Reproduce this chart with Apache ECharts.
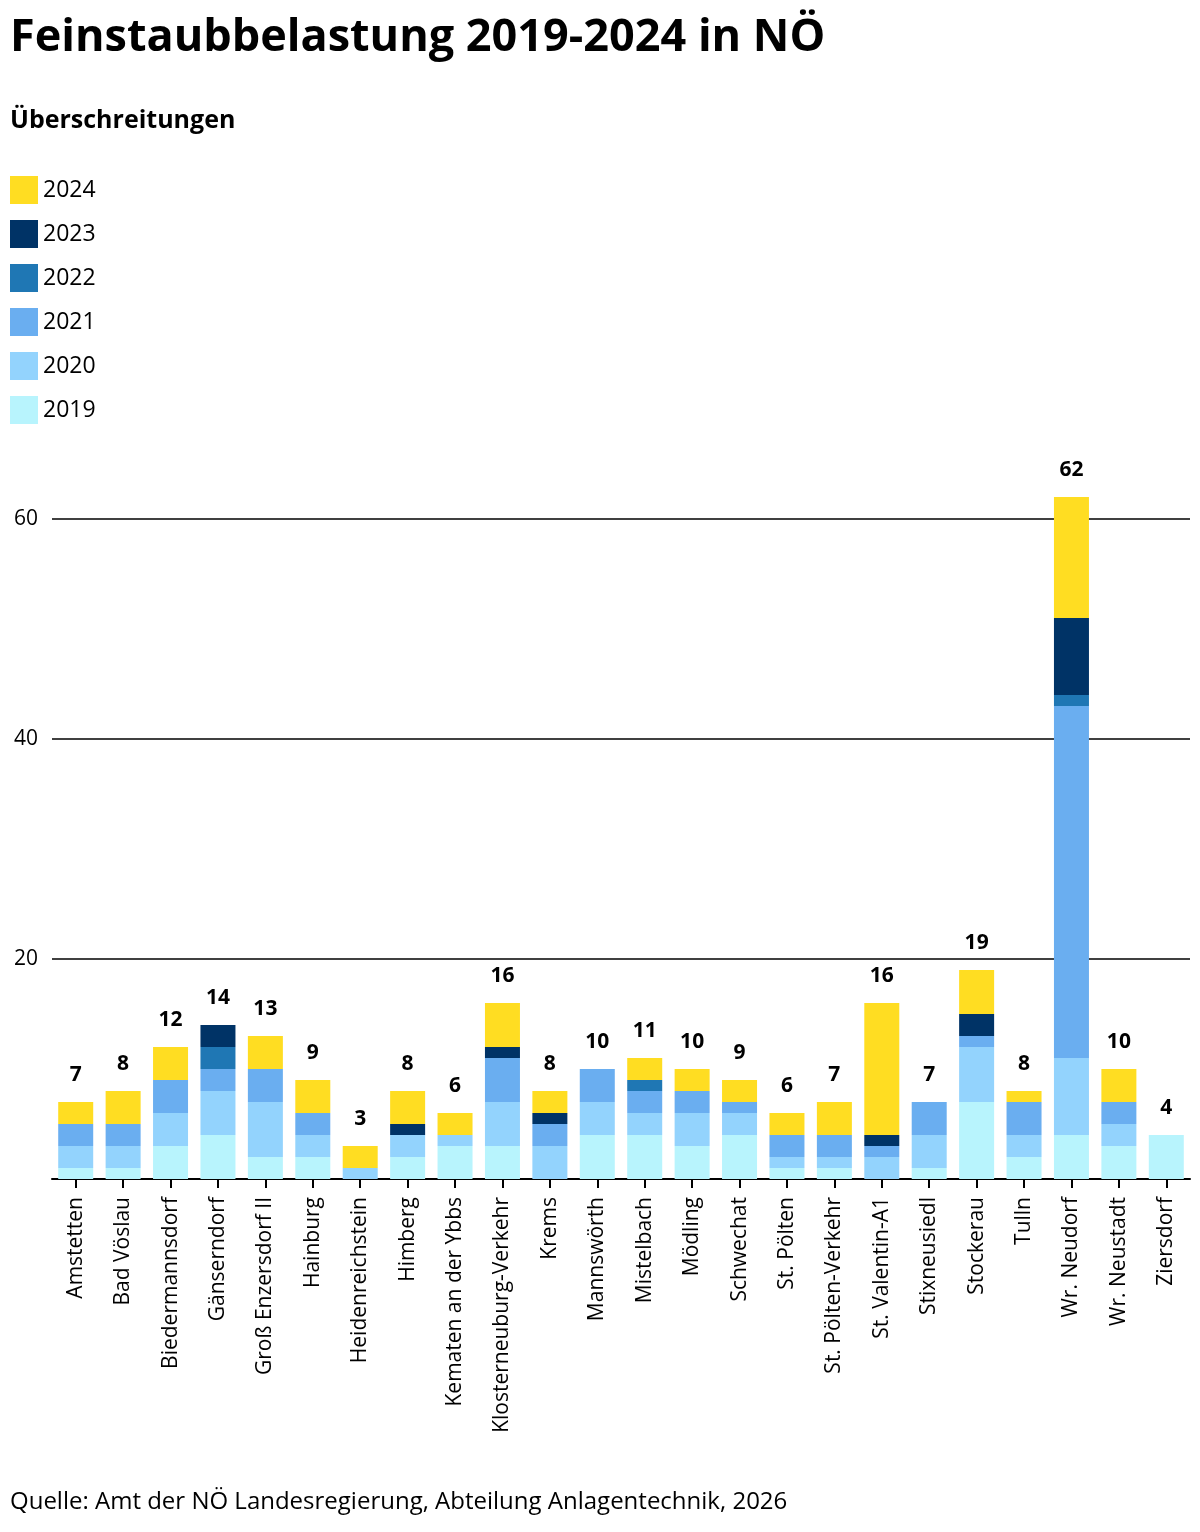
<!DOCTYPE html>
<html>
<head>
<meta charset="utf-8">
<title>Feinstaubbelastung 2019-2024 in NÖ</title>
<script src="https://cdn.jsdelivr.net/npm/echarts@6/dist/echarts.min.js"></script>
<style>
  html, body { margin: 0; padding: 0; background: #fff; }
  #chart { width: 1200px; height: 1532px; }
</style>
</head>
<body>
<div id="chart"></div>
<script>
const stations = ['Amstetten', 'Bad Vöslau', 'Biedermannsdorf', 'Gänserndorf', 'Groß Enzersdorf II', 'Hainburg',
  'Heidenreichstein', 'Himberg', 'Kematen an der Ybbs', 'Klosterneuburg-Verkehr', 'Krems', 'Mannswörth',
  'Mistelbach', 'Mödling', 'Schwechat', 'St. Pölten', 'St. Pölten-Verkehr', 'St. Valentin-A1',
  'Stixneusiedl', 'Stockerau', 'Tulln', 'Wr. Neudorf', 'Wr. Neustadt', 'Ziersdorf']

const years = ['2019', '2020', '2021', '2022', '2023', '2024']

const v2019 = [1, 1, 3, 4, 2, 2, 0, 2, 3, 3, 0, 4, 4, 3, 4, 1, 1, 0, 1, 7, 2, 4, 3, 4]
const v2020 = [2, 2, 3, 4, 5, 2, 1, 2, 1, 4, 3, 3, 2, 3, 2, 1, 1, 2, 3, 5, 2, 7, 2, 0]
const v2021 = [2, 2, 3, 2, 3, 2, 0, 0, 0, 4, 2, 3, 2, 2, 1, 2, 2, 1, 3, 1, 3, 32, 2, 0]
const v2022 = [0, 0, 0, 2, 0, 0, 0, 0, 0, 0, 0, 0, 1, 0, 0, 0, 0, 0, 0, 0, 0, 1, 0, 0]
const v2023 = [0, 0, 0, 2, 0, 0, 0, 1, 0, 1, 1, 0, 0, 0, 0, 0, 0, 1, 0, 2, 0, 7, 0, 0]
const v2024 = [2, 3, 3, 0, 3, 3, 2, 3, 2, 4, 2, 0, 2, 2, 2, 2, 3, 12, 0, 4, 1, 11, 3, 0]

const yTicks = [0, 20, 40, 60]

const colors = {
  '2019': '#b8f4fd',
  '2020': '#93d3fd',
  '2021': '#6aaef0',
  '2022': '#1f77b4',
  '2023': '#003366',
  '2024': '#ffdd22'
}

const valuesByYear = { '2019': v2019, '2020': v2020, '2021': v2021, '2022': v2022, '2023': v2023, '2024': v2024 }
const totals = stations.map((s, i) => years.reduce((sum, y) => sum + valuesByYear[y][i], 0))

const font = '"Open Sans", "Noto Sans", sans-serif'

let myChart = echarts.init(document.getElementById('chart'))

let series = years.map(y => ({
  name: y,
  type: 'bar',
  stack: 'total',
  barWidth: 35,
  itemStyle: { color: colors[y] },
  emphasis: { disabled: true },
  data: valuesByYear[y]
}))

// zero-height bar on top of the stack, only there to carry the total label
series.push({
  name: 'Summe',
  type: 'bar',
  stack: 'total',
  barWidth: 35,
  itemStyle: { color: 'transparent' },
  label: {
    show: true,
    position: 'top',
    distance: 16,
    fontFamily: font,
    fontWeight: 'bold',
    fontSize: 21,
    color: '#000',
    formatter: p => totals[p.dataIndex]
  },
  data: stations.map(() => 0)
})

let option = {
  animation: false,
  textStyle: { fontFamily: font },
  title: [
    {
      text: 'Feinstaubbelastung 2019-2024 in NÖ',
      left: 5,
      top: 11,
      textStyle: { fontFamily: font, fontWeight: 'bold', fontSize: 45, color: '#000' }
    },
    {
      text: 'Überschreitungen',
      left: 5,
      top: 103,
      textStyle: { fontFamily: font, fontWeight: 'bold', fontSize: 25, color: '#000' }
    },
    {
      text: 'Quelle: Amt der NÖ Landesregierung, Abteilung Anlagentechnik, 2026',
      left: 5,
      top: 1485,
      textStyle: { fontFamily: font, fontWeight: 'normal', fontSize: 24, color: '#000' }
    }
  ],
  legend: {
    orient: 'vertical',
    left: 10,
    top: 176,
    padding: 0,
    icon: 'rect',
    itemWidth: 28,
    itemHeight: 28,
    itemGap: 16,
    selectedMode: false,
    data: years.slice().reverse(),
    textStyle: { fontFamily: font, fontSize: 23, color: '#000' }
  },
  grid: {
    left: 52,
    right: 10,
    top: 464,
    bottom: 353,
    containLabel: false
  },
  xAxis: {
    type: 'category',
    data: stations,
    axisLine: { lineStyle: { color: '#000', width: 2 } },
    axisTick: { show: true, alignWithLabel: true, length: 9, lineStyle: { color: '#000', width: 2 } },
    axisLabel: {
      interval: 0,
      rotate: 90,
      margin: 18,
      fontFamily: font,
      fontSize: 21,
      color: '#000'
    }
  },
  yAxis: {
    type: 'value',
    min: yTicks[0],
    max: 65,
    interval: yTicks[1] - yTicks[0],
    axisLine: { show: false },
    axisTick: { show: false },
    axisLabel: {
      showMaxLabel: false,
      showMinLabel: false,
      margin: 14,
      fontFamily: font,
      fontSize: 21,
      color: '#000'
    },
    splitLine: {
      show: true,
      showMaxLine: false,
      showMinLine: false,
      lineStyle: { color: '#000', width: 1.5 }
    }
  },
  series: series
}

myChart.setOption(option)
</script>
</body>
</html>
